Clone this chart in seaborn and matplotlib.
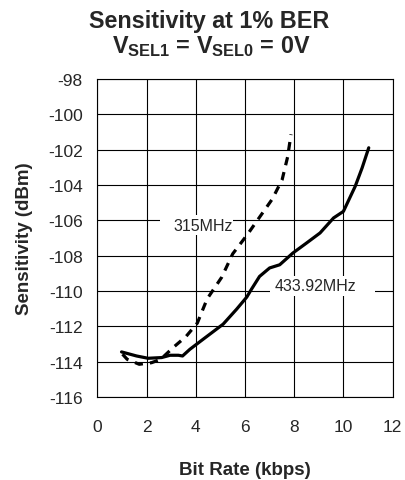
import numpy as np
import pandas as pd
import matplotlib
matplotlib.use("Agg")
import matplotlib.pyplot as plt
from matplotlib.patches import Rectangle
import seaborn as sns

# Data
rate_433 = [0.98, 1.59, 2.06, 2.61, 2.95, 3.29, 3.46, 3.76, 4.3, 5.11, 5.66, 6.07,
            6.25, 6.59, 7.0, 7.41, 7.95, 8.5, 9.05, 9.6, 10.0, 10.48, 10.76, 11.03]
sens_433 = [-113.45, -113.68, -113.81, -113.77, -113.64, -113.64, -113.68, -113.3,
            -112.73, -111.88, -111.03, -110.35, -109.93, -109.18, -108.7, -108.52,
            -107.85, -107.29, -106.72, -105.87, -105.5, -104.08, -103.04, -101.9]
rate_315 = [1.02, 1.21, 1.7, 2.2, 2.57, 3.08, 3.6, 4.06, 4.46, 5.05, 5.5, 6.09,
            6.57, 7.11, 7.51, 7.73, 7.87]
sens_315 = [-113.58, -113.87, -114.15, -114.06, -113.87, -113.2, -112.58, -111.82,
            -110.45, -109.23, -107.9, -106.82, -105.87, -104.8, -103.7, -102.43,
            -101.14]
x_ticks = [0, 2, 4, 6, 8, 10, 12]
y_ticks = [-98, -100, -102, -104, -106, -108, -110, -112, -114, -116]
label_315 = "315MHz"
label_433 = "433.92MHz"

sns.set_style("white")
plt.rcParams['font.family'] = ['Liberation Sans', 'DejaVu Sans']
plt.rcParams['mathtext.fontset'] = 'custom'
plt.rcParams['mathtext.bf'] = 'Liberation Sans:bold'
plt.rcParams['mathtext.rm'] = 'Liberation Sans:bold'
plt.rcParams['mathtext.it'] = 'Liberation Sans:bold'
plt.rcParams['axes.unicode_minus'] = False

df433 = pd.DataFrame({"rate": rate_433, "sens": sens_433})
df315 = pd.DataFrame({"rate": rate_315, "sens": sens_315})

fig = plt.figure(figsize=(4.06, 4.81), dpi=100)
ax = fig.add_axes([0.240, 0.1726, 0.727, 0.6614])

sns.lineplot(data=df433, x="rate", y="sens", sort=False, ax=ax, color="black",
             linewidth=2.3, estimator=None, zorder=3)
sns.lineplot(data=df315, x="rate", y="sens", sort=False, ax=ax, color="black",
             linewidth=2.3, estimator=None, zorder=3)
ax.lines[-1].set_dashes((2.6, 2.2))
ax.lines[-1].set_dash_capstyle("butt")

ax.set_xlim(0, 12)
ax.set_ylim(-116, -98)
ax.set_xticks(x_ticks)
ax.set_yticks(y_ticks)
ax.grid(True, color="black", linewidth=0.8)
ax.set_axisbelow(True)
for s in ax.spines.values():
    s.set_color("black")
    s.set_linewidth(0.8)
ax.tick_params(axis="both", direction="out", length=4.5, width=0.8, color="black",
               labelsize=12.5)
ax.tick_params(axis="y", pad=6)
ax.tick_params(axis="x", pad=11)

ax.set_xlabel("Bit Rate (kbps)", fontsize=13.5, fontweight="bold", labelpad=20)
ax.set_ylabel("Sensitivity (dBm)", fontsize=13.5, fontweight="bold", labelpad=11)

# white masks behind the curve labels
ax.add_patch(Rectangle((2.55, -106.84), 2.98, 1.14, facecolor="white",
                       edgecolor="none", zorder=1))
ax.add_patch(Rectangle((7.02, -110.31), 4.27, 1.13, facecolor="white",
                       edgecolor="none", zorder=1))
ax.text(4.3, -106.27, label_315, fontsize=11.5, ha="center", va="center", zorder=4)
ax.text(8.87, -109.7, label_433, fontsize=11.5, ha="center", va="center", zorder=4)

fig.text(0.514, 0.9424, "Sensitivity at 1% BER", fontsize=16.8, fontweight="bold",
         ha="center", va="baseline")
fig.text(0.52, 0.8905, r"V$_{\mathbf{SEL1}}$ = V$_{\mathbf{SEL0}}$ = 0V",
         fontsize=16.8, fontweight="bold", ha="center", va="baseline")

fig.savefig("out.png", dpi=100)
